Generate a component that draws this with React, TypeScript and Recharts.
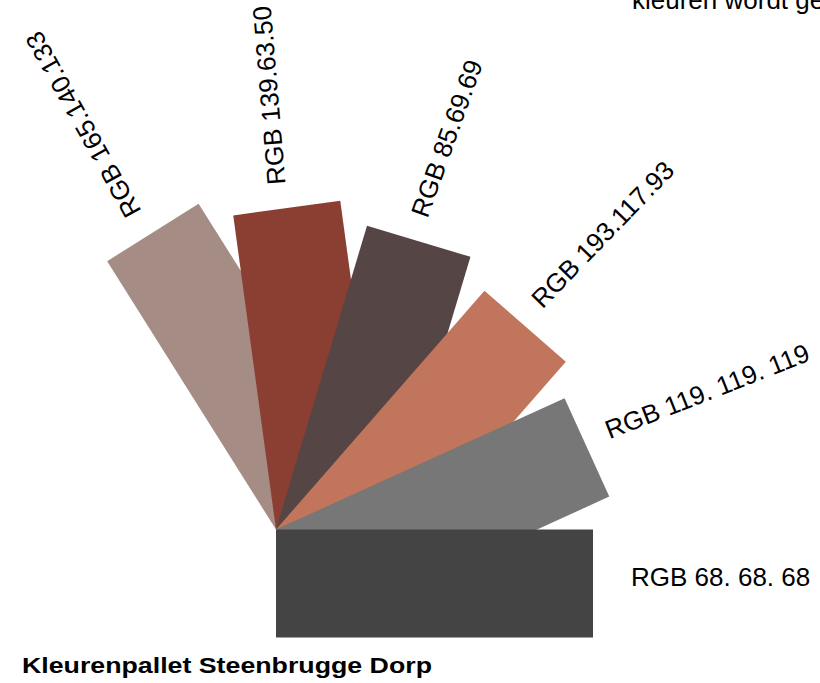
import { PieChart, Pie } from "recharts";

// swatches, from the back of the fan to the front
const swatchLabels = [
  "RGB 165.140.133",
  "RGB 139.63.50",
  "RGB 85.69.69",
  "RGB 193.117.93",
  "RGB 119. 119. 119",
  "RGB 68. 68. 68",
];
const swatchRgb = [
  [165, 140, 133],
  [139, 63, 50],
  [85, 69, 69],
  [193, 117, 93],
  [119, 119, 119],
  [68, 68, 68],
];
// every swatch takes the same share of the fan
const swatchShare = [1, 1, 1, 1, 1, 1];

const title = "Kleurenpallet Steenbrugge Dorp";
const topText = "kleuren wordt ge";

const data = swatchLabels.map((label, i) => ({
  label,
  share: swatchShare[i],
  color: `rgb(${swatchRgb[i].join(",")})`,
}));

const FONT = '"Liberation Sans", Arial, Helvetica, sans-serif';
const SWATCH_W = 108;

// draws the swatch card and its caption at the slice's mid angle
// eslint-disable-next-line @typescript-eslint/no-explicit-any
function renderSwatch(props: any) {
  const { cx, cy, midAngle, outerRadius, index } = props;
  const item = props.payload ?? props;
  const rad = (midAngle * Math.PI) / 180;
  const flat = midAngle < 1;
  const along = outerRadius + (flat ? 38 : 24);
  const down = flat ? 57 : 56;
  const tx = cx + along * Math.cos(rad) + down * Math.sin(rad);
  const ty = cy - along * Math.sin(rad) + down * Math.cos(rad);
  const tilt = Math.max(0, midAngle - 3);
  return (
    <g key={`swatch-${index}`}>
      <rect
        x={cx}
        y={cy}
        width={outerRadius}
        height={SWATCH_W}
        fill={item.color}
        transform={`rotate(${-midAngle} ${cx} ${cy})`}
      />
      <text
        x={tx}
        y={ty}
        fontSize={26}
        fill="#000"
        stroke="none"
        fontFamily={FONT}
        transform={`rotate(${-tilt} ${tx} ${ty})`}
      >
        {item.label}
      </text>
    </g>
  );
}

export default function App() {
  return (
    <div style={{ position: "relative", width: 820, height: 683, background: "#fff" }}>
      <style>{`body{margin:0;}`}</style>
      <PieChart width={820} height={683} margin={{ top: 0, right: 0, bottom: 0, left: 0 }}>
        <Pie
          data={data}
          dataKey="share"
          cx={276}
          cy={529.5}
          innerRadius={0}
          outerRadius={317}
          startAngle={134.4}
          endAngle={-12.2}
          fill="none"
          stroke="none"
          label={renderSwatch}
          labelLine={false}
          isAnimationActive={false}
        />
      </PieChart>
      <svg
        width={820}
        height={683}
        style={{ position: "absolute", left: 0, top: 0, pointerEvents: "none" }}
      >
        <text x={632} y={9} fontSize={26} fontFamily={FONT} fill="#000">
          {topText}
        </text>
        <text
          x={22}
          y={673}
          fontSize={22}
          fontWeight="bold"
          fontFamily={FONT}
          fill="#000"
          textLength={410}
          lengthAdjust="spacingAndGlyphs"
        >
          {title}
        </text>
      </svg>
    </div>
  );
}
